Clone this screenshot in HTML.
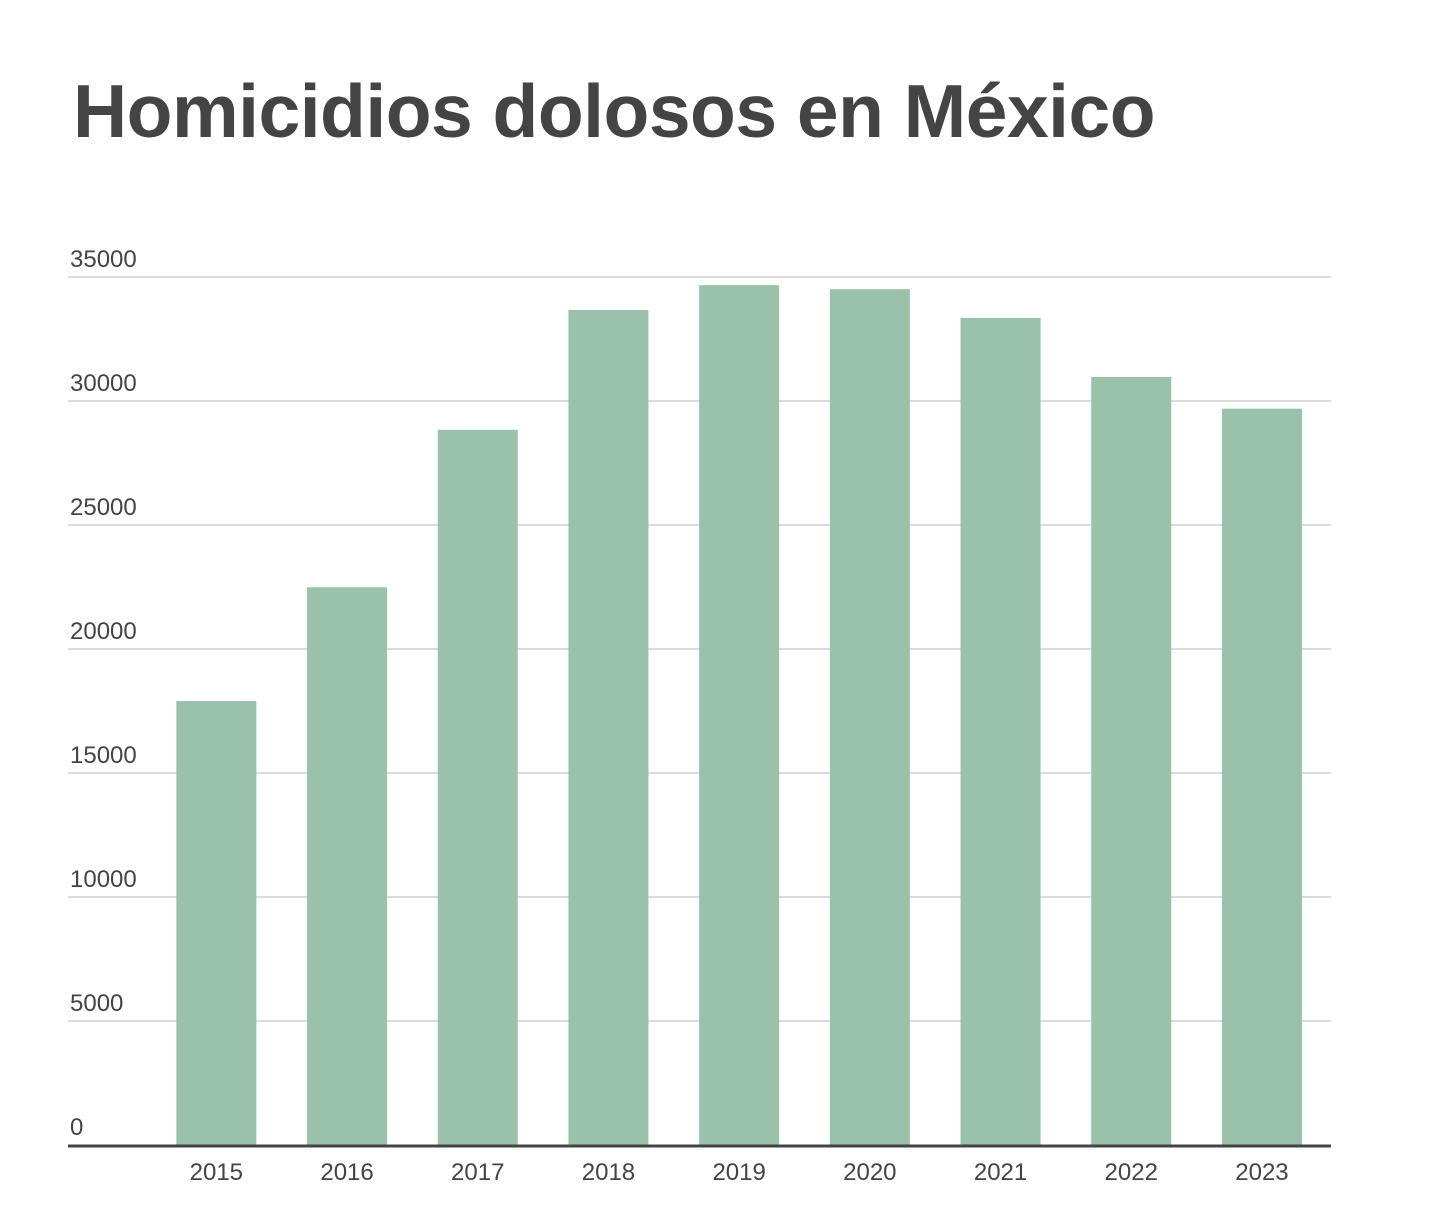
<!DOCTYPE html>
<html><head><meta charset="utf-8"><style>
body{margin:0;background:#fff;width:1434px;height:1226px;overflow:hidden;font-family:"Liberation Sans",sans-serif}
h1{position:absolute;left:73px;top:68px;margin:0;font-size:75px;font-weight:bold;color:#444;letter-spacing:-0.5px}
svg{position:absolute;left:0;top:0}
</style></head><body>
<h1>Homicidios dolosos en México</h1>
<svg id="c" width="1434" height="1226"></svg>
<script>
const categories=["2015","2016","2017","2018","2019","2020","2021","2022","2023"];
const values=[17900,22490,28840,33670,34670,34510,33350,30970,29690];
const yTicks=[0,5000,10000,15000,20000,25000,30000,35000];
const svg=document.getElementById('c');const NS='http://www.w3.org/2000/svg';
const y=v=>1145-v/35000*(1145-277);
const bandStart=151,bandW=130.7,barW=80;
const x=i=>bandStart+i*bandW+(bandW-barW)/2;
function mk(t,a){const e=document.createElementNS(NS,t);for(const k in a)e.setAttribute(k,a[k]);svg.appendChild(e);return e;}
yTicks.forEach(v=>{
 if(v>0){const l=mk('line',{x1:68,x2:1331,y1:y(v),y2:y(v),stroke:'#dcdcdc','stroke-width':2});
 
 }
 const t=mk('text',{x:70,y:y(v)-10,'font-size':24,fill:'#444'});t.textContent=v;
 
 
});
values.forEach((v,i)=>{
 const r=mk('rect',{x:x(i),y:y(v),width:barW,height:y(0)-y(v),fill:'#9ac1aa'});
 
 
 const t=mk('text',{x:x(i)+barW/2,y:1180,'font-size':24,fill:'#444','text-anchor':'middle'});t.textContent=categories[i];
 
 
});
const ax=mk('line',{x1:68,x2:1331,y1:1146,y2:1146,stroke:'#444','stroke-width':3});


</script>
</body></html>
